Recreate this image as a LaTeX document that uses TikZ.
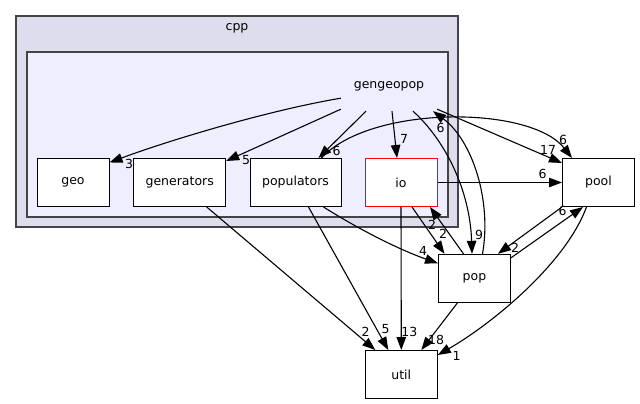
\documentclass[tikz,border=0pt]{standalone}
\usepackage{fontspec}
\setmainfont{DejaVu Sans}
\usetikzlibrary{arrows.meta,calc}
\definecolor{clouter}{HTML}{DDDDEE}
\definecolor{clinner}{HTML}{EEEEFF}
\definecolor{clborder}{HTML}{444444}
\begin{document}
\begin{tikzpicture}[x=1pt,y=-1pt,
  font=\fontsize{12.5}{14}\selectfont,
  dirbox/.style={draw=black, fill=white, line width=1pt, minimum width=72pt, minimum height=48pt, inner sep=0pt},
  edge/.style={draw=black, line width=1.1pt, -{Triangle[length=13pt,width=9.5pt]}},
  lbl/.style={inner sep=0pt},
  cluster/.style={draw=clborder, line width=2pt},
]
\useasboundingbox[fill=white] (0,0) rectangle (640,404);
% clusters
\draw[cluster, fill=clouter] (16,16) rectangle (458,227);
\draw[cluster, fill=clinner] (27,52) rectangle (448,217);
\node (cpplbl) at (237,28.5) {cpp};
\node[minimum width=98pt, minimum height=50pt, inner sep=0pt] (gg) at (389,86) {\raisebox{-1.5pt}{gengeopop}};

% directory nodes
\node[dirbox] (geo) at (73,182.5) {geo};
\node[dirbox, minimum width=92pt] (generators) at (179.7,182.5) {generators};
\node[dirbox, minimum width=91pt] (populators) at (295.5,182.5) {populators};
\node[dirbox, draw=red] (io) at (401,182.5) {io};
\node[dirbox] (pool) at (598.5,182.5) {pool};
\node[dirbox] (pop) at (474.5,278.3) {pop};
\node[dirbox] (util) at (401.3,374.5) {util};

% edges
\draw[edge] ($(gg.south west)+(1,-13)$) .. controls (270,110) and (170,140) .. ($(geo.north east)+(0,4.5)$);
\draw[edge] ($(gg.south west)+(1,-2)$) -- ($(generators.north east)+(0,3)$);
\draw[edge] ($(gg.south)+(-23,0)$) -- ($(populators.north)+(23,0)$);
\draw[edge] ($(gg.south)+(3,0)$) -- ($(io.north)+(-4,0)$);
\draw[edge] ($(gg.south)+(24,0)$) .. controls (445,140) and (470,190) .. ($(pop.north)+(-2.5,0)$);
\draw[edge] ($(pop.north)+(8,0)$) .. controls (492,200) and (472,140) .. ($(gg.south)+(44,0)$);
\draw[edge] ($(gg.south east)+(-1,-2)$) -- ($(pool.north west)+(0,5)$);
\draw[edge] ($(populators.north)+(26,0)$) .. controls (370,105) and (530,105) .. ($(pool.north)+(-26.5,0)$);
\draw[edge] (io.east) -- (pool.west);
\draw[edge] ($(io.south)+(11,0)$) -- ($(pop.north)+(-30,0)$);
\draw[edge] ($(pop.north)+(-11,0)$) -- ($(io.south)+(29,0)$);
\draw[edge] (pool.south west) -- ($(pop.north)+(23.5,0)$);
\draw[edge] ($(pop.north east)+(0,4)$) -- ($(pool.south)+(-15.5,0)$);
\draw[edge] (io.south) -- (util.north);
\draw[edge] ($(populators.south)+(28,0)$) .. controls (360,230) and (400,250) .. ($(pop.west)+(0,-15)$);
\draw[edge] ($(populators.south)+(13,0)$) -- ($(util.north)+(-13,0)$);
\draw[edge] ($(generators.south)+(27,0)$) -- ($(util.north)+(-26,0)$);
\draw[edge] ($(pop.south)+(-17,0)$) -- ($(util.north)+(20,0)$);
\draw[edge] ($(pool.south)+(-12,0)$) .. controls (565,265) and (490,325) .. ($(util.east)+(0,-19.5)$);

% edge labels
\node[lbl] (l1) at (129,164) {3};
\node[lbl] (l2) at (246,160) {5};
\node[lbl] (l3) at (336.7,150.7) {6};
\node[lbl] (l4) at (404,139) {7};
\node[lbl] (l5) at (479,235) {9};
\node[lbl] (l6) at (440.7,127.7) {6};
\node[lbl] (l7) at (548,150) {17};
\node[lbl] (l8) at (563,140) {6};
\node[lbl] (l9) at (542.7,174) {6};
\node[lbl] (l10) at (432,225) {2};
\node[lbl] (l11) at (443,234) {2};
\node[lbl] (l12) at (423,251) {4};
\node[lbl] (l13) at (515,248.3) {2};
\node[lbl] (l14) at (562.7,211) {6};
\node[lbl] (l15) at (409.3,331.7) {13};
\node[lbl] (l16) at (385.7,329.3) {5};
\node[lbl] (l17) at (365.7,331.7) {2};
\node[lbl] (l18) at (436,340.3) {18};
\node[lbl] (l19) at (456.7,355.7) {1};
\end{tikzpicture}
\end{document}
